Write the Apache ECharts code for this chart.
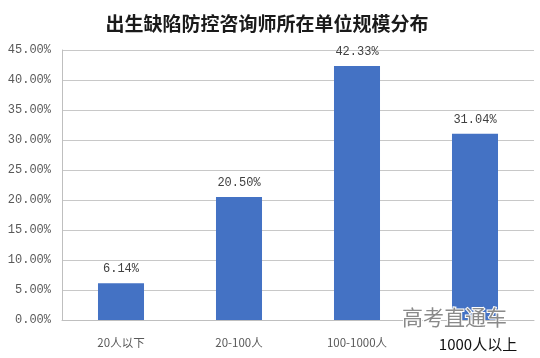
<!DOCTYPE html>
<html><head><meta charset="utf-8">
<script src="https://cdn.jsdelivr.net/npm/echarts@6/dist/echarts.min.js"></script>
<style>html,body{margin:0;padding:0;background:#fff}#c{width:540px;height:358px}</style>
</head><body><div id="c"></div>
<script>
const title = '出生缺陷防控咨询师所在单位规模分布';
const categories = ['20人以下', '20-100人', '100-1000人', '1000人以上'];
const values = [6.14, 20.50, 42.33, 31.04];
const yMin = 0, yMax = 45, yStep = 5;
const watermark = '高考直通车';

const chart = echarts.init(document.getElementById('c'), null, {renderer: 'canvas'});
chart.setOption({
  animation: false,
  backgroundColor: '#fff',
  title: {
    text: title, left: 262, textAlign: 'center', top: 9,
    textStyle: {fontSize: 19, fontWeight: 'bold', color: '#1a1a1a', fontFamily: 'Noto Sans CJK SC'}
  },
  grid: {left: 62, right: 6, top: 50, bottom: 38},
  xAxis: {
    type: 'category', data: categories,
    axisLine: {lineStyle: {color: '#bfbfbf'}},
    axisTick: {show: false},
    axisLabel: {
      margin: 17, color: '#595959', fontSize: 11.5, fontFamily: 'Noto Sans CJK SC',
      formatter: (v, i) => i === categories.length - 1 ? '{b|' + v + '}' : v,
      rich: {b: {fontSize: 15, color: '#111', fontFamily: 'Noto Sans CJK SC', padding: [0, 0, 0, 6]}}
    }
  },
  yAxis: {
    type: 'value', min: yMin, max: yMax, interval: yStep,
    axisLine: {show: true, lineStyle: {color: '#bfbfbf'}},
    axisTick: {show: false},
    splitLine: {lineStyle: {color: '#c8c8c8'}},
    axisLabel: {
      margin: 11, color: '#595959', fontSize: 12, fontFamily: 'Liberation Mono',
      formatter: v => v.toFixed(2) + '%'
    }
  },
  series: [{
    type: 'bar', data: values, barWidth: '39%',
    itemStyle: {color: '#4472C4'},
    label: {
      show: true, position: 'top', distance: 8, color: '#404040', fontSize: 12,
      fontFamily: 'Liberation Mono', formatter: p => p.value.toFixed(2) + '%'
    }
  }],
  graphic: [{
    type: 'text', left: 401, top: 306, z: 100,
    style: {text: watermark, fontSize: 21, fill: '#8a8a8a', stroke: '#fff', lineWidth: 2,
      fontFamily: 'Noto Sans CJK SC'}
  }]
});
</script></body></html>
